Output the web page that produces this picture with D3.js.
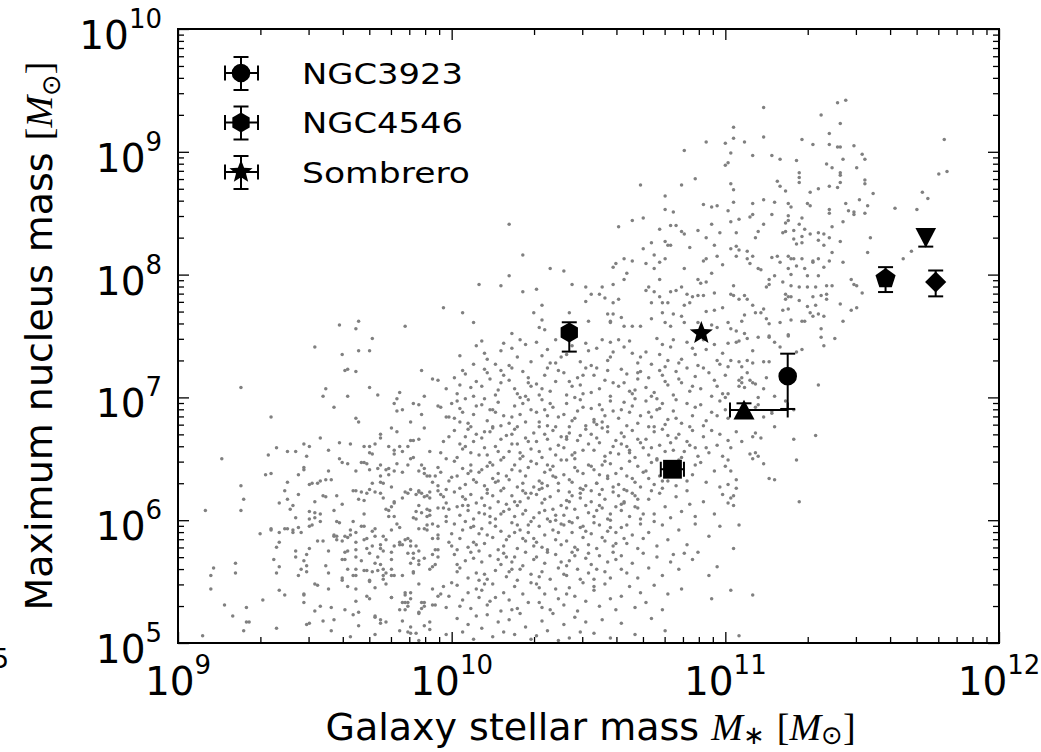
<!DOCTYPE html>
<html><head><meta charset="utf-8">
<script src="https://cdn.jsdelivr.net/npm/d3@7"></script>
<style>html,body{margin:0;padding:0;background:#fff;}svg{display:block;}</style>
</head><body>
<svg id="chart" width="1041" height="752"></svg>
<script>
// ---------- data ----------
const xDomain = [1e9, 1e12];
const yDomain = [1e5, 1e10];
const xMajorTicks = [1e9, 1e10, 1e11, 1e12];
const xTickExponents = ["9", "10", "11", "12"];
const yMajorTicks = [1e5, 1e6, 1e7, 1e8, 1e9, 1e10];
const yTickExponents = ["5", "6", "7", "8", "9", "10"];

const legendNames = ["NGC3923", "NGC4546", "Sombrero"];
const legendShapes = ["circle", "hexagon", "star"];

const specialShapes = ["circle", "triangleUp", "square", "hexagon", "star", "pentagon", "triangleDown", "diamond"];
const specialMass   = [1.69e11, 1.17e11, 6.41e10, 2.69e10, 8.17e10, 3.85e11, 5.40e11, 5.87e11];
const specialMassLo = [null, 1.04e11, 5.81e10, null, null, null, null, null];
const specialMassHi = [null, 1.69e11, 7.06e10, null, null, null, null, null];
const specialNuc    = [1.49e7, 7.9e6, 2.6e6, 3.37e7, 3.33e7, 9.27e7, 2.0e8, 8.71e7];
const specialNucLo  = [8.05e6, 6.95e6, null, 2.36e7, null, 7.21e7, 1.69e8, 6.65e7];
const specialNucHi  = [2.27e7, 8.95e6, null, 4.09e7, null, 1.15e8, 2.34e8, 1.08e8];

// sample galaxies: flat pairs of log10(M*)x100, log10(M_nuc)x100
const galaxyDots = [
959,759,965,756,966,762,983,758,997,773,
1093,908,1100,907,1085,901,1100,889,1089,878,1069,873,1084,873,1078,864,1078,853,1081,851,1092,857,1095,855,1097,856,1066,844,1070,846,1061,839,1076,837,1080,840,1082,840,1095,841,1021,841,1026,816,1036,805,1041,803,1010,792,1018,791,1021,799,1026,786,1031,788,1044,792,1049,790,1055,790,1059,792,1051,784,1054,784,1056,781,1049,778,1030,769,1033,775,1043,769,1004,769,1008,761,1022,752,1033,763,1032,757,1034,755,1050,762,1057,768,1059,768,1058,762,1061,780,1059,777,1059,806,1060,809,1063,813,1064,801,1063,796,1066,811,1070,821,1071,809,1073,826,1074,816,1074,805,1076,810,1076,796,1078,813,1078,827,1079,824,1080,824,1084,835,1085,833,1087,822,1090,836,1093,830,1096,824,1098,834,1093,813,1092,811,1085,805,1090,796,1091,793,1093,794,1095,801,1097,815,1099,808,1071,787,1072,790,1074,786,1073,777,1076,782,1077,777,1079,777,1080,786,1082,787,1084,790,1086,784,1088,782,1090,783,1092,783,1096,785,1077,769,1081,768,1084,766,1085,775,1087,777,1093,770,1096,771,1099,773,1097,757,1095,759,1090,761,1085,761,1080,758,1078,761,1073,764,1069,758,1066,758,1063,758,1062,765,1058,761,
1144,942,1141,940,1114,936,1135,930,1142,923,1103,920,1138,915,1103,911,1114,912,1128,910,1107,908,1132,906,1138,906,1141,904,1142,904,1147,905,1102,899,1110,897,1117,897,1120,894,1126,893,1143,894,1150,898,1151,894,1101,891,1137,890,1139,887,1148,887,1127,883,1127,879,1127,875,1142,883,1142,881,1142,875,1141,871,1180,910,1178,882,1181,884,1102,874,1119,876,1120,872,1122,868,1131,867,1134,870,1138,872,1151,877,1151,874,1154,866,1103,869,1149,861,1172,867,1174,862,1170,853,1162,854,1114,861,1103,859,1110,858,1118,859,1123,858,1124,855,1130,858,1131,856,1144,858,1145,852,1147,851,1147,849,1152,856,1151,850,1138,853,1138,850,1101,852,1105,845,1109,847,1110,849,1117,849,1123,848,1123,844,1122,842,1128,846,1127,841,1143,843,1102,843,1104,834,1112,835,1111,830,1114,841,1121,834,1122,835,1125,836,1125,829,1126,825,1129,837,1128,831,1128,826,1131,833,1134,834,1134,828,1136,833,1138,830,1139,839,1136,824,1142,827,1153,830,1152,818,1102,821,1104,823,1105,820,1108,819,1110,815,1108,813,1104,815,1109,809,1112,805,1113,804,1117,814,1119,815,1123,815,1124,813,1120,810,1123,805,1125,813,1126,807,1128,813,1129,805,1132,810,1132,811,1134,813,1136,806,1138,811,1139,818,1143,810,1134,799,1130,799,1127,790,1124,800,1118,799,1116,796,1116,792,1115,790,1121,794,1124,791,1123,782,1122,780,1122,784,1124,782,1127,779,1130,790,1133,790,1137,791,1137,784,1137,780,1139,791,1132,782,1135,783,1133,775,1130,774,1131,769,1132,766,1134,768,1136,766,1142,776,1143,762,1146,771,1148,773,1146,796,1147,792,1148,791,1150,785,1103,791,1102,784,1103,783,1105,780,1107,783,1108,780,1110,775,1111,769,1113,769,1107,767,1106,762,1101,761,1102,756,1104,754,1107,752,1114,772,1115,764,1116,760,1121,771,1123,772,1120,761,1124,763,1129,762,1128,762,1116,750,1123,751,1135,756,1168,819,1165,813,
1101,744,1104,745,1105,746,1108,748,1112,749,1116,749,1118,745,1120,741,1123,750,1135,749,1136,742,1140,748,1126,737,1128,739,1102,730,1110,738,1105,729,1106,725,1110,728,1114,729,1116,729,1101,725,1108,730,1108,720,1115,716,1105,714,1106,712,1106,716,1105,709,1107,708,1109,714,1110,712,1111,711,1114,707,1100,700,1101,703,1118,701,1112,700,1122,697,1134,710,1112,694,1111,692,1117,689,1117,687,1114,684,1125,690,1101,683,1118,676,1104,672,1101,665,1102,659,1106,664,1111,671,1110,668,1113,667,1125,666,1133,669,1109,654,1110,650,1111,655,1112,652,1114,646,1126,649,1101,649,1102,640,1104,633,1116,634,1118,633,1101,629,1104,626,1102,618,1103,620,1101,614,1103,612,1127,615,1105,596,1103,577,1102,543,1110,539,1105,506,
971,748,950,741,960,735,966,738,970,738,961,722,962,723,965,721,989,722,993,715,995,714,923,708,970,708,954,707,953,701,962,701,973,702,981,704,980,699,990,701,998,707,1000,695,979,695,980,689,982,690,986,695,988,694,989,686,995,693,996,692,998,684,999,684,985,680,957,692,965,683,966,680,934,684,978,675,980,672,974,670,974,667,972,662,970,655,971,654,968,660,970,660,977,660,979,657,979,654,981,660,982,656,984,660,985,665,986,665,988,666,992,656,997,664,999,668,952,667,955,657,959,663,963,662,946,662,948,660,940,656,943,656,936,659,933,653,947,652,916,650,959,650,960,647,962,646,967,647,968,647,969,646,970,641,973,642,974,645,976,641,977,642,974,636,977,637,979,640,980,646,982,639,984,645,986,651,988,640,989,645,990,642,990,638,991,636,992,636,994,636,995,643,996,639,998,650,999,632,1000,635,946,641,946,643,952,632,954,633,956,633,951,630,949,630,948,629,944,637,932,637,934,638,923,628,924,617,923,608,910,608,937,614,939,624,940,631,940,617,941,609,942,612,944,621,943,602,944,594,948,607,948,601,948,595,949,596,950,606,950,602,952,605,952,599,953,620,954,619,957,608,958,599,959,598,957,587,958,587,960,613,960,583,961,568,963,592,963,588,964,624,964,599,965,624,967,623,966,617,968,616,969,622,971,630,970,625,972,623,974,622,974,631,975,618,978,627,978,611,979,615,979,614,976,609,977,608,977,603,979,603,980,597,981,594,982,618,984,622,983,623,985,625,987,621,988,624,988,623,989,622,990,619,991,620,992,618,992,623,993,631,995,624,996,621,997,619,998,625,998,614,999,609,997,610,995,610,991,609,992,608,992,604,991,603,989,606,987,607,986,602,987,601,988,593,990,593,991,596,991,592,993,597,993,585,995,588,995,595,998,599,1000,589,1000,579,999,582,995,576,995,570,994,576,994,564,993,562,993,572,990,569,988,575,987,579,985,583,985,579,986,573,986,569,986,558,986,557,988,567,988,564,988,548,984,573,984,585,983,584,982,580,981,580,981,582,979,579,978,574,976,584,975,587,974,580,974,577,972,593,972,587,971,591,971,579,969,585,969,577,970,573,968,584,967,595,968,595,965,582,965,576,962,586,962,575,961,574,960,568,958,584,957,588,953,583,951,583,948,577,947,572,947,563,947,558,946,567,945,560,944,555,943,570,943,575,942,590,942,592,940,593,939,593,937,590,934,593,934,592,937,582,936,578,935,568,936,557,937,562,939,539,937,543,930,589,921,565,921,557,913,561,912,555,912,544,917,531,920,522,925,529,925,517,926,517,924,510,931,535,936,512,909,506,946,540,946,539,946,533,950,548,951,547,950,526,952,530,947,515,948,516,953,518,955,557,954,563,955,544,956,529,957,519,956,510,960,551,961,527,962,546,963,505,965,544,965,534,964,523,966,525,966,514,969,559,970,551,970,550,969,538,970,536,972,521,972,522,972,507,974,519,974,516,976,517,978,537,978,537,981,510,981,527,982,533,983,541,983,539,983,533,984,533,985,536,985,541,984,530,983,527,982,518,984,509,985,508,987,508,985,513,988,524,988,525,988,502,989,528,989,533,990,530,990,533,990,514,992,517,992,511,993,544,993,531,994,531,995,538,996,540,997,546,998,529,999,538,1000,549,998,507,979,555,978,555,978,560,978,568,976,557,975,560,974,564,973,570,975,552,975,555,976,548,973,559,971,558,972,565,968,559,967,567,965,560,965,555,964,555,965,570,960,553,961,587,
1009,742,1003,734,1008,727,1011,746,1018,738,1013,731,1016,727,1019,744,1012,736,1022,740,1025,747,1024,733,1029,729,1027,743,1021,726,1035,739,1031,745,1038,747,1040,733,1036,728,1033,734,1049,744,1044,742,1043,748,1047,729,1042,735,1050,738,1055,747,1053,740,1059,737,1057,730,1051,726,1058,745,1063,741,1066,736,1061,747,1068,728,1065,746,1069,733,1071,737,1075,748,1077,743,1079,730,1073,727,1076,735,1080,741,1081,747,1084,731,1088,740,1086,745,1083,728,1089,735,1090,726,1093,739,1096,743,1097,730,1092,747,1098,727,1099,736,
1001,716,1004,722,1007,708,1002,703,1009,713,1005,719,1008,701,1003,710,1012,723,1014,715,1017,706,1019,718,1011,709,1016,702,1018,712,1013,720,1021,714,1023,707,1026,721,1028,716,1024,703,1029,709,1022,724,1027,701,1031,711,1034,718,1036,705,1039,722,1032,702,1038,713,1035,724,1033,707,1041,720,1044,709,1046,716,1048,703,1043,713,1049,724,1042,702,1047,710,1052,718,1054,707,1057,722,1059,712,1051,704,1056,714,1058,701,1053,724,1061,709,1064,719,1066,703,1068,715,1062,723,1067,706,1069,721,1063,712,1072,716,1074,704,1076,722,1079,710,1071,708,1077,718,1073,701,1078,713,1082,721,1084,712,1087,705,1089,717,1081,702,1086,724,1088,709,1083,715,1091,707,1094,720,1096,714,1099,703,1092,724,1097,709,1095,701,1100,718,
1002,697,1004,688,1006,679,1009,693,1001,683,1007,676,1003,691,1008,686,1005,699,1011,694,1013,681,1016,688,1018,677,1012,699,1017,696,1019,685,1014,690,1015,676,1021,679,1023,693,1025,686,1028,698,1022,684,1027,680,1029,690,1024,676,1026,695,1031,688,1033,698,1035,677,1037,692,1039,684,1032,680,1036,695,1038,676,1034,690,1042,695,1044,681,1046,689,1049,677,1041,686,1047,698,1043,676,1048,692,1045,683,1051,691,1053,678,1056,685,1058,697,1052,682,1057,676,1059,689,1054,694,1055,680,1061,683,1063,696,1065,688,1068,679,1062,690,1067,699,1069,685,1064,677,1066,693,1071,697,1073,684,1076,691,1078,678,1072,688,1077,695,1079,682,1074,676,1075,699,1081,689,1084,679,1086,695,1088,685,1082,698,1087,676,1089,692,1091,694,1093,681,1095,688,1098,697,1092,677,1097,685,1100,690,
1001,673,1003,662,1005,668,1007,655,1009,670,1002,651,1004,658,1006,674,1008,664,1010,653,1011,667,1013,653,1014,672,1016,660,1018,666,1019,651,1012,659,1015,675,1017,656,1020,669,1021,656,1022,670,1024,662,1026,652,1027,667,1029,658,1023,674,1025,650,1028,664,1030,671,1031,664,1033,651,1034,670,1036,658,1037,673,1039,661,1032,656,1035,666,1038,653,1040,668,1041,659,1043,671,1044,653,1046,665,1048,657,1049,674,1042,666,1045,650,1047,669,1050,662,1051,670,1052,657,1054,663,1056,652,1057,672,1059,660,1053,667,1055,675,1058,655,1060,665,1061,654,1063,668,1064,660,1066,673,1067,651,1069,663,1062,671,1065,657,1068,666,1070,659,1071,666,1072,653,1074,672,1076,661,1078,656,1079,669,1073,659,1075,650,1077,674,1080,663,1081,657,1083,670,1084,651,1086,664,1088,673,1089,659,1082,667,1085,656,1087,661,1090,652,1092,668,1094,655,1095,673,1097,661,1099,652,1093,659,1098,670,
1001,648,1002,636,1004,642,1005,629,1007,645,1008,633,1010,639,1003,626,1006,638,1009,631,1011,641,1012,628,1014,647,1015,634,1017,638,1019,626,1013,644,1016,631,1018,649,1020,636,1021,633,1023,645,1024,627,1025,640,1027,636,1029,648,1022,641,1026,630,1028,643,1030,627,1031,646,1032,632,1034,639,1035,628,1037,644,1038,635,1040,649,1033,626,1036,641,1039,630,1041,637,1042,649,1044,631,1045,643,1047,626,1048,638,1050,645,1043,633,1046,640,1049,628,1051,644,1053,630,1054,637,1056,648,1057,634,1059,627,1052,641,1055,625,1058,646,1060,638,1061,629,1062,642,1064,636,1065,648,1067,631,1068,644,1070,639,1063,625,1066,634,1069,627,1071,640,1073,647,1074,629,1076,636,1078,643,1079,632,1072,634,1075,649,1077,626,1080,638,1083,649,1086,632,1089,645,1082,628,1088,637,1091,647,1093,631,1096,640,1098,627,1100,644,
1001,623,1002,611,1003,604,1005,617,1006,608,1007,621,1008,601,1009,614,1010,606,1004,619,1006,612,1011,618,1012,605,1013,622,1014,610,1016,601,1017,615,1018,624,1019,607,1020,613,1015,620,1012,612,1021,609,1022,620,1023,603,1025,615,1026,624,1027,608,1028,618,1030,602,1024,612,1029,622,1026,605,1031,621,1032,606,1033,614,1035,601,1036,619,1037,609,1039,624,1040,612,1034,617,1038,604,1032,625,1041,604,1042,616,1043,623,1045,609,1046,602,1047,618,1049,612,1050,606,1044,620,1048,625,1042,610,1051,615,1052,603,1054,621,1055,610,1056,617,1058,605,1059,623,1060,611,1053,608,1057,601,1051,624,1061,620,1062,608,1063,614,1065,603,1066,622,1067,611,1068,617,1070,605,1064,624,1069,601,1062,613,1072,617,1074,605,1076,622,1078,611,1080,602,1073,624,1082,619,1084,607,1087,613,1089,603,1086,624,1092,615,1096,605,1099,621,
1001,597,1003,585,1004,592,1006,578,1007,594,1008,582,1010,589,1002,576,1005,599,1009,580,1011,593,1012,581,1014,598,1015,586,1017,576,1018,591,1020,584,1013,588,1016,595,1019,579,1021,587,1022,598,1024,577,1025,592,1027,583,1028,596,1030,579,1023,590,1026,585,1029,599,1031,582,1032,595,1034,588,1035,576,1037,592,1038,584,1040,597,1033,578,1036,599,1039,590,1041,596,1042,583,1044,590,1045,578,1047,594,1048,586,1050,580,1043,599,1046,576,1049,591,1051,589,1053,577,1054,596,1056,583,1057,591,1059,579,1052,598,1055,586,1058,594,1060,581,1062,594,1064,581,1066,588,1068,577,1069,597,1063,585,1072,590,1075,579,1077,596,1079,584,1074,599,1083,592,1086,580,1089,597,1094,587,1098,595,
1001,572,1003,561,1005,567,1006,553,1008,569,1009,557,1002,564,1007,574,1010,551,1011,566,1013,552,1014,571,1016,559,1018,564,1019,573,1012,556,1017,568,1020,554,1021,558,1023,570,1024,551,1026,563,1027,574,1029,556,1022,566,1025,560,1030,568,1031,570,1033,558,1034,565,1036,552,1038,572,1039,561,1032,554,1035,574,1040,566,1041,556,1043,567,1044,574,1046,560,1047,552,1049,569,1042,563,1045,571,1050,557,1051,564,1052,552,1054,571,1056,558,1057,566,1059,574,1053,560,1058,553,1060,568,1062,571,1064,557,1066,565,1068,553,1070,573,1072,561,1075,570,1077,555,1080,566,1081,572,1083,560,1085,573,1088,568,1090,574,1094,555,1097,562,
1002,547,1004,535,1006,541,1007,528,1009,544,1003,530,1010,537,1011,543,1013,531,1015,548,1016,537,1018,526,1019,541,1014,534,1021,535,1023,546,1024,528,1026,540,1028,533,1029,549,1022,527,1031,548,1032,533,1034,540,1036,527,1038,544,1039,536,1033,529,1041,531,1043,545,1045,538,1046,526,1048,549,1049,534,1042,540,1052,543,1054,530,1056,548,1058,536,1060,527,1062,538,1065,546,1067,529,1069,541,1071,533,1074,547,1077,527,1079,540,1084,544,1095,536,
1002,520,1004,509,1006,515,1008,503,1009,522,1011,512,1013,523,1015,505,1017,517,1019,509,1021,519,1023,507,1025,524,1027,513,1029,503,1031,506,1033,518,1035,510,1037,524,1039,502,1041,515,1043,504,1045,521,1047,509,1049,517,1052,508,1055,519,1058,504,1062,516,1067,507,1073,520,1078,510,
1005,660,1015,645,1025,655,1035,645,1045,655,1055,645,1065,655,1013,625,1023,615,1033,630,1043,615,1053,630,1063,615,1008,595,1018,605,1028,590,1038,600,1048,595,1058,600,1068,610,1010,575,1020,570,1030,585,1040,580,1050,573,1060,590,1070,585,1015,690,1025,700,1035,685,1045,700,1055,690,1065,705,1075,690,1018,722,1028,712,1038,728,1048,718,1058,733,1068,720,1078,725,1003,680,1012,672,1022,662,1032,676,1042,668,1052,680,1062,662,1072,676,1082,683,1007,640,1017,632,1027,622,1037,636,1047,622,1057,636,1067,620,1077,632,1004,612,1014,603,1024,596,1034,608,1044,598,1054,612,1064,596,1002,558,1012,548,1022,560,1032,545,1042,555,1052,546,1062,560,
965,640,975,630,985,650,995,628,958,620,968,605,978,592,988,612,998,603,955,575,965,590,975,575,985,565,995,585,962,560,972,545,982,555,992,560,950,615,945,590,955,640,996,655,990,675
];

// ---------- layout ----------
const W = 1041, H = 752;
const plot = {left: 178, right: 999, top: 29, bottom: 643};
const FONT = "DejaVu Sans";
const MATH = "'Liberation Serif', 'DejaVu Serif', serif";

const svg = d3.select("#chart");
svg.append("rect").attr("width", W).attr("height", H).attr("fill", "#fff");

const x = d3.scaleLog().domain(xDomain).range([plot.left, plot.right]);
const y = d3.scaleLog().domain(yDomain).range([plot.bottom, plot.top]);

svg.append("clipPath").attr("id", "plotclip").append("rect")
  .attr("x", plot.left).attr("y", plot.top)
  .attr("width", plot.right - plot.left).attr("height", plot.bottom - plot.top);

// scatter
const dots = [];
for (let i = 0; i < galaxyDots.length; i += 2) {
  dots.push([Math.pow(10, galaxyDots[i] / 100), Math.pow(10, galaxyDots[i + 1] / 100)]);
}
svg.append("g").attr("clip-path", "url(#plotclip)")
  .selectAll("circle").data(dots).join("circle")
  .attr("cx", d => x(d[0])).attr("cy", d => y(d[1]))
  .attr("r", 1.75).attr("fill", "#808080");

// marker shapes
function poly(n, r, startDeg) {
  const pts = [];
  for (let k = 0; k < n; k++) {
    const a = (startDeg + 360 * k / n) * Math.PI / 180;
    pts.push([r * Math.cos(a), r * Math.sin(a)]);
  }
  return pts;
}
function markerPath(shape) {
  let pts;
  switch (shape) {
    case "circle": return d3.symbol(d3.symbolCircle, Math.PI * 9.3 * 9.3)();
    case "square": pts = [[-9.4, -9.4], [9.4, -9.4], [9.4, 9.4], [-9.4, 9.4]]; break;
    case "triangleUp": pts = [[0, -10.2], [10.5, 9.6], [-10.5, 9.6]]; break;
    case "triangleDown": pts = [[0, 10], [10.3, -9.6], [-10.3, -9.6]]; break;
    case "hexagon": pts = poly(6, 10, -90); break;
    case "pentagon": pts = poly(5, 10.6, -90); break;
    case "diamond": pts = [[0, -10.5], [10.6, 0], [0, 10.5], [-10.6, 0]]; break;
    case "star": {
      pts = [];
      for (let k = 0; k < 10; k++) {
        const r = k % 2 === 0 ? 12.2 : 12.2 * 0.43;
        const a = (-90 + 36 * k) * Math.PI / 180;
        pts.push([r * Math.cos(a), r * Math.sin(a)]);
      }
      break;
    }
  }
  return "M" + pts.map(p => p[0].toFixed(2) + "," + p[1].toFixed(2)).join("L") + "Z";
}

// error bars + special markers
const CAP = 7.5;
const eg = svg.append("g").attr("stroke", "#000").attr("stroke-width", 2).attr("fill", "none");
specialShapes.forEach((s, i) => {
  const cx = x(specialMass[i]), cy = y(specialNuc[i]);
  if (specialNucLo[i] !== null) {
    const y1 = y(specialNucLo[i]), y2 = y(specialNucHi[i]);
    eg.append("line").attr("x1", cx).attr("x2", cx).attr("y1", y1).attr("y2", y2);
    eg.append("line").attr("x1", cx - CAP).attr("x2", cx + CAP).attr("y1", y1).attr("y2", y1);
    eg.append("line").attr("x1", cx - CAP).attr("x2", cx + CAP).attr("y1", y2).attr("y2", y2);
  }
  if (specialMassLo[i] !== null) {
    const x1 = x(specialMassLo[i]), x2 = x(specialMassHi[i]);
    eg.append("line").attr("x1", x1).attr("x2", x2).attr("y1", cy).attr("y2", cy);
    eg.append("line").attr("x1", x1).attr("x2", x1).attr("y1", cy - CAP).attr("y2", cy + CAP);
    eg.append("line").attr("x1", x2).attr("x2", x2).attr("y1", cy - CAP).attr("y2", cy + CAP);
  }
});
svg.append("g").selectAll("path").data(specialShapes).join("path")
  .attr("d", s => markerPath(s))
  .attr("transform", (s, i) => `translate(${x(specialMass[i])},${y(specialNuc[i])})`)
  .attr("fill", "#000");

// ticks (inward, all four sides)
const allX = x.ticks().filter(v => !xMajorTicks.includes(v));
const allY = y.ticks().filter(v => !yMajorTicks.includes(v));
function tickGroup(axis, vals, size, tr) {
  const g = svg.append("g").attr("transform", tr)
    .call(axis.tickValues(vals).tickSize(size).tickFormat(""));
  g.select(".domain").remove();
  g.selectAll("line").attr("stroke", "#000").attr("stroke-width", 1.3);
}
tickGroup(d3.axisBottom(x), xMajorTicks, -11, `translate(0,${plot.bottom})`);
tickGroup(d3.axisBottom(x), allX, -6, `translate(0,${plot.bottom})`);
tickGroup(d3.axisTop(x), xMajorTicks, -11, `translate(0,${plot.top})`);
tickGroup(d3.axisTop(x), allX, -6, `translate(0,${plot.top})`);
tickGroup(d3.axisLeft(y), yMajorTicks, -11, `translate(${plot.left},0)`);
tickGroup(d3.axisLeft(y), allY, -6, `translate(${plot.left},0)`);
tickGroup(d3.axisRight(y), yMajorTicks, -11, `translate(${plot.right},0)`);
tickGroup(d3.axisRight(y), allY, -6, `translate(${plot.right},0)`);

// frame
svg.append("rect").attr("x", plot.left).attr("y", plot.top)
  .attr("width", plot.right - plot.left).attr("height", plot.bottom - plot.top)
  .attr("fill", "none").attr("stroke", "#000").attr("stroke-width", 2);

// tick labels
const BASE = 39, SUP = 26, SUPUP = 21;
xMajorTicks.forEach((v, i) => {
  const t = svg.append("text").attr("x", x(v)).attr("y", 695)
    .attr("text-anchor", "middle").attr("font-family", FONT).attr("font-size", BASE).attr("fill", "#000");
  t.append("tspan").text("10");
  t.append("tspan").attr("font-size", SUP).attr("dy", -SUPUP).text(xTickExponents[i]);
});
yMajorTicks.forEach((v, i) => {
  const t = svg.append("text").attr("x", 162).attr("y", y(v) + 20)
    .attr("text-anchor", "end").attr("font-family", FONT).attr("font-size", BASE).attr("fill", "#000");
  t.append("tspan").text("10");
  t.append("tspan").attr("font-size", SUP).attr("dy", -SUPUP).text(yTickExponents[i]);
});
// fragment at the left edge of the original figure
svg.append("text").attr("x", 9).attr("y", 668).attr("text-anchor", "end")
  .attr("font-family", FONT).attr("font-size", SUP).text("5");

// axis labels: pieces laid out one after another, centred as a whole
function seqLabel(parent, parts, baseline) {
  const nodes = parts.map(p => parent.append("text")
    .attr("y", baseline + (p.dy || 0))
    .attr("font-family", p.fam).attr("font-size", p.size)
    .attr("font-style", p.it ? "italic" : "normal").attr("fill", "#000").text(p.t));
  const widths = nodes.map(n => n.node().getComputedTextLength());
  const total = d3.sum(widths);
  let xx = -total / 2;
  nodes.forEach((n, i) => { n.attr("x", xx); xx += widths[i]; });
}
const xLabelParts = [
  {t: "Galaxy stellar mass\u00a0", fam: FONT, size: 38},
  {t: "M", fam: MATH, size: 38, it: true},
  {t: "\u2217", fam: FONT, size: 26, dy: 4},
  {t: "\u00a0", fam: FONT, size: 38},
  {t: "[", fam: MATH, size: 38},
  {t: "M", fam: MATH, size: 38, it: true},
  {t: "\u2299", fam: FONT, size: 26, dy: 4},
  {t: "]", fam: MATH, size: 38}
];
const yLabelParts = [
  {t: "Maximum nucleus mass\u00a0", fam: FONT, size: 38},
  {t: "[", fam: MATH, size: 38},
  {t: "M", fam: MATH, size: 38, it: true},
  {t: "\u2299", fam: FONT, size: 26, dy: 8},
  {t: "]", fam: MATH, size: 38}
];
seqLabel(svg.append("g").attr("transform", `translate(${(plot.left + plot.right) / 2 + 2},0)`), xLabelParts, 740);
seqLabel(svg.append("g").attr("transform", `translate(52,${(plot.top + plot.bottom) / 2}) rotate(-90)`), yLabelParts, 0);

// legend
const legendX = 241, legendY0 = 73, legendDy = 49.5;
const legendWidths = [161, 161, 168];
const lg = svg.append("g");
legendNames.forEach((name, i) => {
  const cy = legendY0 + i * legendDy;
  const g = lg.append("g").attr("stroke", "#000").attr("stroke-width", 2);
  g.append("line").attr("x1", legendX - 16).attr("x2", legendX + 17).attr("y1", cy).attr("y2", cy);
  g.append("line").attr("x1", legendX - 16).attr("x2", legendX - 16).attr("y1", cy - CAP).attr("y2", cy + CAP);
  g.append("line").attr("x1", legendX + 17).attr("x2", legendX + 17).attr("y1", cy - CAP).attr("y2", cy + CAP);
  g.append("line").attr("x1", legendX).attr("x2", legendX).attr("y1", cy - 16).attr("y2", cy + 17);
  g.append("line").attr("x1", legendX - CAP).attr("x2", legendX + CAP).attr("y1", cy - 16).attr("y2", cy - 16);
  g.append("line").attr("x1", legendX - CAP).attr("x2", legendX + CAP).attr("y1", cy + 17).attr("y2", cy + 17);
  lg.append("path").attr("d", markerPath(legendShapes[i]))
    .attr("transform", `translate(${legendX},${cy})`).attr("fill", "#000");
  lg.append("text").attr("x", 302).attr("y", cy + 10.5)
    .attr("font-family", FONT).attr("font-size", 29).attr("fill", "#000")
    .attr("textLength", legendWidths[i]).attr("lengthAdjust", "spacingAndGlyphs")
    .text(name);
});
</script>
</body></html>
